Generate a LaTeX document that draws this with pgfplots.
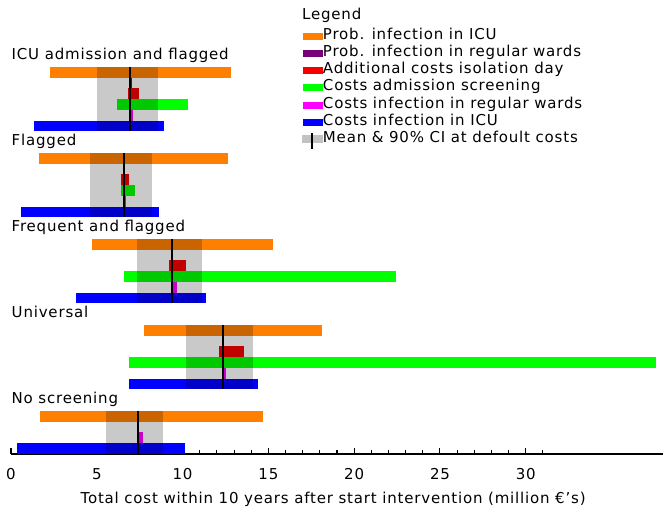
\documentclass[border=0pt]{standalone}
\usepackage{pgfplots}
\pgfplotsset{compat=1.18}
\usepackage{fontspec}
\setmainfont{DejaVu Sans}[LetterSpace=5.4]
\definecolor{cOr}{RGB}{255,128,0}
\definecolor{cPu}{RGB}{120,0,120}
\definecolor{cRe}{RGB}{245,0,0}
\definecolor{cGr}{RGB}{0,255,0}
\definecolor{cMa}{RGB}{255,0,255}
\definecolor{cBl}{RGB}{0,0,255}
\pgfplotsset{
  fbar/.style={draw=none, mark=none},
  ci/.style={draw=none, mark=none, fill=black, fill opacity=0.21, forget plot},
  mean/.style={black, line width=1.9pt, mark=none},
}
\newcommand{\fs}{\fontsize{15}{18}\selectfont}
\begin{document}
\begin{tikzpicture}[font=\fs]
\path[use as bounding box] (0pt,0pt) rectangle (664pt,526pt);
\begin{axis}[
  scale only axis, width=652pt, height=454pt,
  at={(11pt,72pt)}, anchor=south west,
  xmin=0, xmax=38, ymin=0, ymax=42.23,
  axis x line=bottom, axis y line=none,
  x axis line style={-, line width=1.3pt},
  xtick={0,5,...,30}, minor xtick={1,...,31},
  tick align=inside, major tick length=6pt, minor tick length=3.5pt,
  every tick/.style={black, line width=1.1pt},
  /pgf/number format/assume math mode=true,
  xticklabel style={font=\fs, yshift=-11pt},
  xlabel={Total cost within 10 years after start intervention (million €'s)},
  xlabel style={font=\fs, anchor=center, at={(axis description cs:0.494,0)}, yshift=-45pt},
  clip=false,
  legend cell align=left,
  legend style={at={(axis cs:16.96,39.65)}, anchor=north west, draw=none, fill=none,
    inner sep=0pt, outer sep=0pt, row sep=0pt, font=\fs,
    nodes={inner xsep=0pt, inner ysep=0pt, text height=11.5pt, text depth=5.7pt}},
]
% ---- Prob. infection in ICU (orange)
\addplot[fbar, fill=cOr, legend image code/.code={\fill[cOr, draw=none] (0pt,-3.5pt) rectangle (20pt,3.5pt);}] coordinates {(2.27,35) (12.8,35) (12.8,36) (2.27,36)} -- cycle;
\addlegendentry{Prob. infection in ICU}
\addplot[fbar, fill=cOr, forget plot] coordinates {(1.65,27) (12.63,27) (12.63,28) (1.65,28)} -- cycle;
\addplot[fbar, fill=cOr, forget plot] coordinates {(4.72,19) (15.25,19) (15.25,20) (4.72,20)} -- cycle;
\addplot[fbar, fill=cOr, forget plot] coordinates {(7.77,11) (18.1,11) (18.1,12) (7.77,12)} -- cycle;
\addplot[fbar, fill=cOr, forget plot] coordinates {(1.67,3) (14.7,3) (14.7,4) (1.67,4)} -- cycle;
% ---- Prob. infection in regular wards (purple)
\addplot[fbar, fill=cPu, legend image code/.code={\fill[cPu, draw=none] (0pt,-3.5pt) rectangle (20pt,3.5pt);}] coordinates {(6.93,34) (7.03,34) (7.03,35) (6.93,35)} -- cycle;
\addlegendentry{Prob. infection in regular wards}
\addplot[fbar, fill=cPu, forget plot] coordinates {(6.55,26) (6.63,26) (6.63,27) (6.55,27)} -- cycle;
\addplot[fbar, fill=cPu, forget plot] coordinates {(9.36,18) (9.45,18) (9.45,19) (9.36,19)} -- cycle;
\addplot[fbar, fill=cPu, forget plot] coordinates {(12.3,10) (12.4,10) (12.4,11) (12.3,11)} -- cycle;
\addplot[fbar, fill=cPu, forget plot] coordinates {(7.38,2) (7.46,2) (7.46,3) (7.38,3)} -- cycle;
% ---- Additional costs isolation day (red)
\addplot[fbar, fill=cRe, legend image code/.code={\fill[cRe, draw=none] (0pt,-3.5pt) rectangle (20pt,3.5pt);}] coordinates {(6.82,33) (7.44,33) (7.44,34) (6.82,34)} -- cycle;
\addlegendentry{Additional costs isolation day}
\addplot[fbar, fill=cRe, forget plot] coordinates {(6.39,25) (6.9,25) (6.9,26) (6.39,26)} -- cycle;
\addplot[fbar, fill=cRe, forget plot] coordinates {(9.23,17) (10.2,17) (10.2,18) (9.23,18)} -- cycle;
\addplot[fbar, fill=cRe, forget plot] coordinates {(12.1,9) (13.58,9) (13.58,10) (12.1,10)} -- cycle;
% ---- Costs admission screening (green)
\addplot[fbar, fill=cGr, legend image code/.code={\fill[cGr, draw=none] (0pt,-3.5pt) rectangle (20pt,3.5pt);}] coordinates {(6.16,32) (10.3,32) (10.3,33) (6.16,33)} -- cycle;
\addlegendentry{Costs admission screening}
\addplot[fbar, fill=cGr, forget plot] coordinates {(6.39,24) (7.25,24) (7.25,25) (6.39,25)} -- cycle;
\addplot[fbar, fill=cGr, forget plot] coordinates {(6.6,16) (22.44,16) (22.44,17) (6.6,17)} -- cycle;
\addplot[fbar, fill=cGr, forget plot] coordinates {(6.85,8) (37.6,8) (37.6,9) (6.85,9)} -- cycle;
% ---- Costs infection in regular wards (magenta)
\addplot[fbar, fill=cMa, legend image code/.code={\fill[cMa, draw=none] (0pt,-3.5pt) rectangle (20pt,3.5pt);}] coordinates {(6.95,31) (7.1,31) (7.1,32) (6.95,32)} -- cycle;
\addlegendentry{Costs infection in regular wards}
\addplot[fbar, fill=cMa, forget plot] coordinates {(6.59,23) (6.72,23) (6.72,24) (6.59,24)} -- cycle;
\addplot[fbar, fill=cMa, forget plot] coordinates {(9.46,15) (9.7,15) (9.7,16) (9.46,16)} -- cycle;
\addplot[fbar, fill=cMa, forget plot] coordinates {(12.4,7) (12.55,7) (12.55,8) (12.4,8)} -- cycle;
\addplot[fbar, fill=cMa, forget plot] coordinates {(7.46,1) (7.72,1) (7.72,2) (7.46,2)} -- cycle;
% ---- Costs infection in ICU (blue)
\addplot[fbar, fill=cBl, legend image code/.code={\fill[cBl, draw=none] (0pt,-3.5pt) rectangle (20pt,3.5pt);}] coordinates {(1.34,30) (8.92,30) (8.92,31) (1.34,31)} -- cycle;
\addlegendentry{Costs infection in ICU}
\addplot[fbar, fill=cBl, forget plot] coordinates {(0.56,22) (8.62,22) (8.62,23) (0.56,23)} -- cycle;
\addplot[fbar, fill=cBl, forget plot] coordinates {(3.79,14) (11.35,14) (11.35,15) (3.79,15)} -- cycle;
\addplot[fbar, fill=cBl, forget plot] coordinates {(6.87,6) (14.4,6) (14.4,7) (6.87,7)} -- cycle;
\addplot[fbar, fill=cBl, forget plot] coordinates {(0.35,0) (10.14,0) (10.14,1) (0.35,1)} -- cycle;
% ---- 90% CI (grey overlay)
\addplot[ci] coordinates {(5.03,30) (8.58,30) (8.58,36) (5.03,36)} -- cycle;
\addplot[ci] coordinates {(4.6,22) (8.2,22) (8.2,28) (4.6,28)} -- cycle;
\addplot[ci] coordinates {(7.36,14) (11.11,14) (11.11,20) (7.36,20)} -- cycle;
\addplot[ci] coordinates {(10.2,6) (14.08,6) (14.08,12) (10.2,12)} -- cycle;
\addplot[ci] coordinates {(5.56,0) (8.86,0) (8.86,4) (5.56,4)} -- cycle;
% ---- Mean
\addplot[mean, legend image code/.code={\fill[black, fill opacity=0.24, draw=none] (-1pt,-3pt) rectangle (20pt,5pt); \draw[black, line width=1.9pt] (9pt,6.5pt) -- (9pt,-9pt);}] coordinates {(6.95,30) (6.95,36)};
\addlegendentry{Mean \& 90\% CI at defoult costs}
\addplot[mean, forget plot] coordinates {(6.59,22) (6.59,28)};
\addplot[mean, forget plot] coordinates {(9.4,14) (9.4,20)};
\addplot[mean, forget plot] coordinates {(12.34,6) (12.34,12)};
\addplot[mean, forget plot] coordinates {(7.42,0) (7.42,4)};
% ---- labels
\node[anchor=base west, inner sep=0pt] at (axis cs:16.96,40.37) {Legend};
\node[anchor=base west, inner sep=0pt] at (axis cs:0.03,36.67) {ICU admission and flagged};
\node[anchor=base west, inner sep=0pt] at (axis cs:0.03,28.67) {Flagged};
\node[anchor=base west, inner sep=0pt] at (axis cs:0.03,20.67) {Frequent and flagged};
\node[anchor=base west, inner sep=0pt] at (axis cs:0.03,12.67) {Universal};
\node[anchor=base west, inner sep=0pt] at (axis cs:0.03,4.67) {No screening};
\end{axis}
\end{tikzpicture}
\end{document}
